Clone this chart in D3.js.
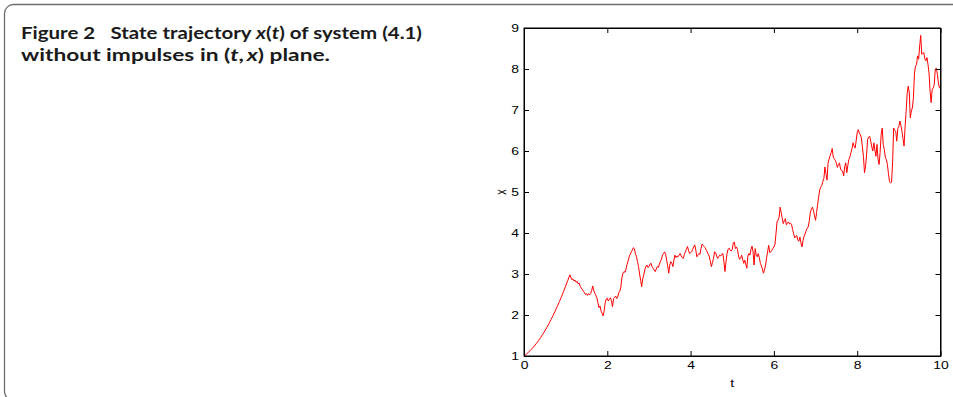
<!DOCTYPE html>
<html>
<head>
<meta charset="utf-8">
<script src="https://cdn.jsdelivr.net/npm/d3@7"></script>
<style>
  html, body { margin: 0; padding: 0; background: #fff; }
  svg { display: block; }
</style>
</head>
<body>
<svg id="chart" width="953" height="397"></svg>
<script>
// ---- data ----
// smooth rise, t = 0 .. 1.1 step 0.05
const riseStep = 0.05;
const riseX = [1.000, 1.040, 1.084, 1.133, 1.187, 1.246, 1.310, 1.378, 1.451, 1.529,
  1.612, 1.700, 1.792, 1.889, 1.991, 2.098, 2.210, 2.326, 2.447, 2.574,
  2.704, 2.839, 2.980];
// noisy part, t = 1.1 .. 10 step 0.025
const noisyStart = 1.1;
const noisyStep = 0.025;
const noisyX = [
  2.98, 2.92, 2.86, 2.88,  2.83, 2.85, 2.80, 2.82,  2.76, 2.78, 2.70, 2.66,
  2.62, 2.58, 2.55, 2.50,  2.52, 2.48, 2.52, 2.49,  2.52, 2.60, 2.71, 2.60,
  2.53, 2.48, 2.42, 2.30,  2.18, 2.22, 2.10, 2.04,  1.98, 2.10, 2.30, 2.39,
  2.41, 2.34, 2.38, 2.42,  2.35, 2.20, 2.40, 2.43,  2.46, 2.40, 2.44, 2.54,
  2.58, 2.68, 2.90, 3.02,  3.06, 3.04, 3.12, 3.24,  3.32, 3.42, 3.48, 3.54,
  3.58, 3.64, 3.62, 3.50,  3.42, 3.30, 3.18, 3.00,  2.85, 2.69, 2.88, 2.98,
  3.10, 3.18, 3.22, 3.16,  3.18, 3.24, 3.26, 3.18,  3.14, 3.10, 3.06, 3.12,
  3.18, 3.16, 3.24, 3.30,  3.36, 3.46, 3.50, 3.54,  3.48, 3.34, 3.20, 3.02,
  3.22, 3.30, 3.26, 3.18,  3.34, 3.46, 3.40, 3.44,  3.42, 3.46, 3.50, 3.44,
  3.40, 3.38, 3.48, 3.54,  3.60, 3.67, 3.58, 3.50,  3.52, 3.54, 3.60, 3.66,
  3.71, 3.58, 3.42, 3.46,  3.50, 3.48, 3.62, 3.73,  3.70, 3.67, 3.64, 3.58,
  3.54, 3.48, 3.42, 3.30,  3.18, 3.28, 3.38, 3.54,  3.52, 3.44, 3.38, 3.42,
  3.46, 3.44, 3.48, 3.50,  3.30, 3.06, 3.30, 3.50,  3.60, 3.63, 3.58, 3.56,
  3.60, 3.76, 3.78, 3.62,  3.66, 3.60, 3.44, 3.36,  3.38, 3.46, 3.36, 3.26,
  3.34, 3.24, 3.14, 3.44,  3.50, 3.46, 3.60, 3.68,  3.54, 3.22, 3.62, 3.46,
  3.42, 3.50, 3.40, 3.26,  3.20, 3.12, 3.02, 3.10,  3.22, 3.40, 3.55, 3.70,
  3.52, 3.54, 3.58, 3.62,  3.66, 3.72, 3.98, 4.27,  4.32, 4.38, 4.63, 4.50,
  4.36, 4.23, 4.30, 4.35,  4.20, 4.24, 4.27, 4.22,  4.24, 4.20, 4.08, 3.98,
  3.88, 3.92, 3.94, 3.82,  3.80, 3.90, 3.76, 3.66,  3.82, 3.92, 3.98, 4.06,
  4.12, 4.15, 4.30, 4.51,  4.58, 4.63, 4.55, 4.42,  4.31, 4.50, 4.70, 4.88,
  5.05, 5.12, 5.16, 5.26,  5.33, 5.61, 5.45, 5.29,  5.70, 5.80, 5.89, 5.96,
  6.06, 5.85, 5.81, 5.77,  5.70, 5.60, 5.67, 5.71,  5.56, 5.52, 5.51, 5.39,
  5.62, 5.71, 5.47, 5.65,  5.79, 5.86, 5.96, 6.05,  6.20, 6.12, 6.07, 6.25,
  6.45, 6.52, 6.44, 6.40,  6.32, 6.10, 5.87, 5.47,  5.62, 5.90, 6.28, 6.34,
  6.36, 6.24, 6.10, 6.00,  6.20, 6.02, 5.87, 6.16,  5.80, 5.67, 5.96, 6.40,
  6.56, 6.16, 6.04, 5.85,  5.79, 5.67, 5.45, 5.26,  5.22, 5.24, 5.71, 6.56,
  6.50, 6.48, 6.24, 6.55,  6.60, 6.73, 6.62, 6.48,  6.30, 6.12, 6.60, 6.97,
  7.40, 7.58, 7.42, 6.81,  6.98, 7.05, 7.30, 7.90,  8.07, 8.11, 8.32, 8.24,
  8.56, 8.82, 8.36, 8.38,  8.40, 8.24, 8.20, 8.28,  8.11, 7.90, 7.46, 7.18,
  7.50, 7.54, 7.62, 8.00,  8.02, 7.87, 7.66, 7.54,  7.52
];
const xTicks = [0, 2, 4, 6, 8, 10];
const yTicks = [1, 2, 3, 4, 5, 6, 7, 8, 9];
const xLabel = "t";
const yLabel = "x";

(function () {
// ---- build series ----
const series = [];
riseX.forEach((v, i) => series.push([i * riseStep, v]));
noisyX.forEach((v, i) => { if (i > 0) series.push([noisyStart + i * noisyStep, v]); });

const svg = d3.select("#chart");

// card frame
svg.append("rect")
  .attr("x", 4.5).attr("y", 4.5)
  .attr("width", 1000).attr("height", 396)
  .attr("rx", 9).attr("ry", 9)
  .attr("fill", "none").attr("stroke", "#6e6e6e").attr("stroke-width", 1.3);

// caption
const cap = svg.append("g").attr("font-family", "Lato, 'Noto Sans', sans-serif")
  .attr("font-weight", "bold").attr("font-size", 17).attr("fill", "#1a1a1a");
const l1 = cap.append("text").attr("x", 21).attr("y", 38.5);
l1.append("tspan").text("Figure 2\u2002 State trajectory ");
l1.append("tspan").attr("font-style", "italic").text("x");
l1.append("tspan").text("(");
l1.append("tspan").attr("font-style", "italic").text("t");
l1.append("tspan").text(") of system (4.1)");
const l2 = cap.append("text").attr("x", 21).attr("y", 61);
l2.append("tspan").text("without impulses in (");
l2.append("tspan").attr("font-style", "italic").text("t");
l2.append("tspan").text(",\u2009");
l2.append("tspan").attr("font-style", "italic").text("x");
l2.append("tspan").text(") plane.");
[[l1, 401], [l2, 309]].forEach(([t, w]) => {
  t.attr("textLength", w).attr("lengthAdjust", "spacingAndGlyphs");
});

const pLeft = 524, pRight = 940.5, pTop = 28, pBottom = 356;
const x = d3.scaleLinear().domain([0, 10]).range([pLeft, pRight]);
const y = d3.scaleLinear().domain([1, 9]).range([pBottom, pTop]);

const axisFont = "'Liberation Sans', Arial, sans-serif";
const tickLen = 5;
const stretch = 1.3;

// line
const line = d3.line().x(d => x(d[0])).y(d => y(d[1]));
svg.append("path").datum(series)
  .attr("d", line).attr("fill", "none")
  .attr("stroke", "#ff0000").attr("stroke-width", 1).attr("stroke-linejoin", "round");

// axes
const gx = svg.append("g").attr("transform", `translate(0,${pBottom})`)
  .call(d3.axisBottom(x).tickValues(xTicks).tickSize(-tickLen).tickPadding(5).tickSizeOuter(0));
const gxTop = svg.append("g").attr("transform", `translate(0,${pTop})`)
  .call(d3.axisTop(x).tickValues(xTicks).tickSize(-tickLen).tickFormat("").tickSizeOuter(0));
const gy = svg.append("g").attr("transform", `translate(${pLeft},0)`)
  .call(d3.axisLeft(y).tickValues(yTicks).tickSize(-tickLen).tickPadding(5).tickSizeOuter(0));
const gyR = svg.append("g").attr("transform", `translate(${pRight},0)`)
  .call(d3.axisRight(y).tickValues(yTicks).tickSize(-tickLen).tickFormat("").tickSizeOuter(0));

[gx, gxTop, gy, gyR].forEach(g => {
  g.select(".domain").attr("stroke", "#000").attr("stroke-width", 1);
  g.selectAll(".tick line").attr("stroke", "#000").attr("stroke-width", 1);
  g.selectAll("text").attr("font-family", axisFont).attr("font-size", 10.7).attr("fill", "#000");
});
// horizontally widened tick labels, as in the reference
gx.selectAll(".tick text").attr("transform", `scale(${stretch},1)`);
gy.selectAll(".tick text").attr("x", -5 / stretch).attr("transform", `scale(${stretch},1)`);

svg.append("rect").attr("x", pLeft).attr("y", pTop)
  .attr("width", pRight - pLeft).attr("height", pBottom - pTop)
  .attr("fill", "none").attr("stroke", "#000").attr("stroke-width", 1);

// axis labels
svg.append("text")
  .attr("transform", `translate(${(pLeft + pRight) / 2},387) scale(${stretch},1)`)
  .attr("text-anchor", "middle").attr("font-family", axisFont).attr("font-size", 11)
  .text(xLabel);
svg.append("text").attr("transform", `translate(506,${(pTop + pBottom) / 2}) rotate(-90) scale(1,${stretch})`)
  .attr("text-anchor", "middle").attr("font-family", axisFont).attr("font-size", 11)
  .text(yLabel);
})();
</script>
</body>
</html>
